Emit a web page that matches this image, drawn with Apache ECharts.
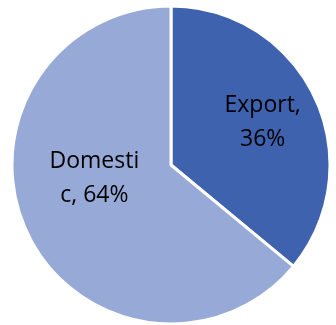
<!DOCTYPE html>
<html><head><meta charset="utf-8">
<script src="https://cdn.jsdelivr.net/npm/echarts@6/dist/echarts.min.js"></script>
<style>html,body{margin:0;padding:0;background:#fff}#c{width:336px;height:325px}</style>
</head><body><div id="c"></div>
<script>
var categories = ["Export", "Domestic"];
var values = [36, 64];
var colors = ["#3E62AD", "#97A9D6"];
var chart = echarts.init(document.getElementById('c'), null, {renderer:'canvas'});
chart.setOption({
  animation: false,
  series: [{
    type: 'pie',
    center: [171, 165],
    radius: [0, 159],
    startAngle: 90,
    clockwise: true,
    data: categories.map(function(c, i){ return {name: c, value: values[i], itemStyle: {color: colors[i]}}; }),
    itemStyle: {borderColor: '#fff', borderWidth: 3},
    label: {
      show: true, position: 'inside',
      formatter: function(p){
        var t = p.name + ', ' + p.percent.toFixed(0) + '%';
        return t.slice(0, 7) + '\n' + t.slice(7).trim();
      },
      color: '#000', fontFamily: 'Open Sans', fontSize: 23, lineHeight: 34
    },
    labelLayout: function(p){
      if (p.dataIndex === 0) return {dx: 17, dy: -7};
      return {dx: -2, dy: -22};
    },
    labelLine: {show: false}
  }]
});
</script></body></html>
